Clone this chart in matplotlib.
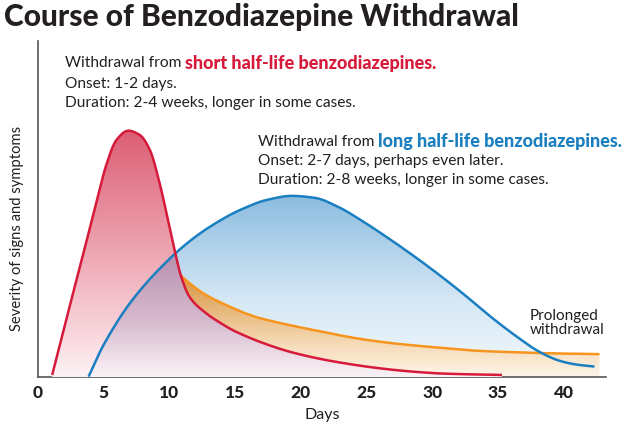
import numpy as np
import matplotlib
matplotlib.use('Agg')
import matplotlib.pyplot as plt
from matplotlib.colors import LinearSegmentedColormap

plt.rcParams['font.family'] = ['Lato', 'DejaVu Sans']

# values (days, severity on a 0-100 scale)
red_days = [1.08, 2.21, 3.47, 4.48, 5.23, 5.98, 6.87, 7.75, 8.51, 9.26, 9.89, 10.39, 10.89,
            11.52, 12.78, 13.79, 14.79, 15.55, 17.06, 19.07, 21.58, 24.10, 26.62, 29.13, 30.87, 35.30]
red_vals = [0.6, 18.0, 37.0, 52.5, 63.5, 70.6, 73.3, 72.0, 67.6, 57.6, 46.7, 37.8, 29.9,
            23.9, 19.0, 16.3, 14.0, 12.6, 10.2, 7.6, 5.3, 3.6, 2.3, 1.4, 1.0, 0.6]

blue_days = [3.85, 4.73, 5.74, 6.74, 8.25, 9.76, 10.51, 12.28, 13.53, 14.79, 15.55, 17.31, 19.32,
             21.08, 22.85, 24.60, 26.62, 28.38, 30.39, 32.40, 34.42, 36.43, 38.19, 39.70, 40.96, 42.34]
blue_vals = [0.1, 7.6, 14.6, 20.6, 28.0, 34.2, 37.0, 42.6, 45.8, 48.6, 50.0, 52.6, 53.9,
             53.3, 50.6, 46.6, 41.4, 36.6, 30.8, 24.6, 18.0, 12.0, 7.4, 4.8, 3.7, 3.1]

orange_days = [10.85, 11.52, 12.78, 14.04, 16.55, 19.07, 21.58, 24.10, 26.62, 29.13, 30.89,
               33.41, 35.92, 38.44, 40.96, 42.72]
orange_vals = [30.2, 27.9, 24.4, 21.9, 17.9, 15.5, 13.5, 11.6, 10.2, 9.2, 8.6,
               7.8, 7.4, 7.1, 6.9, 6.8]

x_ticks = [0, 5, 10, 15, 20, 25, 30, 35, 40]

RED = '#d7193a'
BLUE = '#1a7fc1'
ORANGE = '#f7941d'
TEXT = '#231f20'


def pchip(x, y, n=600):
    # monotone cubic through the read points, only to draw smooth curves
    x = np.asarray(x, float)
    y = np.asarray(y, float)
    h = np.diff(x)
    d = np.diff(y) / h
    m = np.zeros_like(y)
    for k in range(1, len(x) - 1):
        if d[k - 1] * d[k] > 0:
            w1 = 2 * h[k] + h[k - 1]
            w2 = h[k] + 2 * h[k - 1]
            m[k] = (w1 + w2) / (w1 / d[k - 1] + w2 / d[k])
    m[0], m[-1] = d[0], d[-1]
    xs = np.linspace(x[0], x[-1], n)
    i = np.clip(np.searchsorted(x, xs) - 1, 0, len(x) - 2)
    t = (xs - x[i]) / h[i]
    h00 = 2 * t**3 - 3 * t**2 + 1
    h10 = t**3 - 2 * t**2 + t
    h01 = -2 * t**3 + 3 * t**2
    h11 = t**3 - t**2
    ys = h00 * y[i] + h10 * h[i] * m[i] + h01 * y[i + 1] + h11 * h[i] * m[i + 1]
    return xs, ys


def gradient_fill(ax, x, top, bottom, stops, ymax, z):
    poly = ax.fill_between(x, bottom, top, facecolor='none', edgecolor='none')
    cmap = LinearSegmentedColormap.from_list('g', [(v / ymax, c) for v, c in stops])
    grad = np.linspace(0, 1, 256).reshape(-1, 1)
    img = ax.imshow(grad, cmap=cmap, origin='lower', aspect='auto',
                    extent=[min(x), max(x), 0, ymax], zorder=z, interpolation='bilinear')
    img.set_clip_path(poly.get_paths()[0], transform=ax.transData)
    poly.remove()
    return img


rx, ry = pchip(red_days, red_vals)
bx, by = pchip(blue_days, blue_vals)
ox, oy = pchip(orange_days, orange_vals)

fig = plt.figure(figsize=(6.33, 4.30), dpi=100)
ax = fig.add_axes([0.060, 0.1233, 0.897, 0.7814])
ax.set_xlim(0.3, 43.2)
ax.set_ylim(0, 100)

# fills
gradient_fill(ax, bx, by, 0,
              [(0, '#f3f9fd'), (23, '#d5e8f5'), (54, '#8cbce0')], 54, 1)
gradient_fill(ax, ox, oy, 0,
              [(0, '#fdf5ea'), (10, '#f6dab5'), (31, '#d6903a')], 31, 2)
gradient_fill(ax, rx, ry, 0,
              [(0, '#fdf2f5'), (12, '#f9d8de'), (73.5, '#dc5e74')], 73.5, 3)

# overlap of red and blue areas
gx = np.linspace(blue_days[0], red_days[-1], 600)
overlap = np.minimum(np.interp(gx, rx, ry), np.interp(gx, bx, by))
gradient_fill(ax, gx, overlap, 0,
              [(0, '#fbf3f6'), (17, '#d6b9cd'), (38, '#b58ead')], 38, 4)

ax.plot(ox, oy, color=ORANGE, lw=1.8, zorder=5, solid_capstyle='butt')
ax.plot(bx, by, color=BLUE, lw=1.8, zorder=6, solid_capstyle='butt')
ax.plot(rx, ry, color=RED, lw=1.8, zorder=7, solid_capstyle='butt')

for s in ['top', 'right']:
    ax.spines[s].set_visible(False)
for s in ['left', 'bottom']:
    ax.spines[s].set_color('#555555')
    ax.spines[s].set_linewidth(1.2)
ax.set_yticks([])
ax.set_xticks(x_ticks)
ax.set_xticklabels([str(t) for t in x_ticks], fontsize=12.5, fontweight='black', color=TEXT)
ax.tick_params(axis='x', length=0, pad=6)
ax.set_xlabel('Days', fontsize=11.5, color=TEXT, labelpad=5)

fig.text(17 / 633, 1 - 228 / 430, 'Severity of signs and symptoms', rotation=90,
         ha='center', va='center', fontsize=10.6, color=TEXT)

fig.text(4 / 633, 1 - 17 / 430, 'Course of Benzodiazepine Withdrawal', ha='left', va='center',
         fontsize=21.5, fontweight='black', color=TEXT)


def two_part(x, y, plain, bold, color):
    t = fig.text(x / 633, 1 - y / 430, plain, ha='left', va='center', fontsize=11.2, color=TEXT)
    fig.canvas.draw()
    ext = t.get_window_extent()
    fig.text(ext.x1 / 633, 1 - y / 430, bold, ha='left', va='center', fontsize=13,
             fontweight='black', color=color)


two_part(65, 63, 'Withdrawal from ', 'short half-life benzodiazepines.', RED)
fig.text(65 / 633, 1 - 84 / 430, 'Onset: 1-2 days.', ha='left', va='center', fontsize=11.2, color=TEXT)
fig.text(65 / 633, 1 - 103 / 430, 'Duration: 2-4 weeks, longer in some cases.', ha='left',
         va='center', fontsize=11.2, color=TEXT)

two_part(258, 142, 'Withdrawal from ', 'long half-life benzodiazepines.', BLUE)
fig.text(258 / 633, 1 - 161 / 430, 'Onset: 2-7 days, perhaps even later.', ha='left',
         va='center', fontsize=11.2, color=TEXT)
fig.text(258 / 633, 1 - 180 / 430, 'Duration: 2-8 weeks, longer in some cases.', ha='left',
         va='center', fontsize=11.2, color=TEXT)

fig.text(530 / 633, 1 - 323 / 430, 'Prolonged\nwithdrawal', ha='left', va='center',
         fontsize=11, color=TEXT, linespacing=0.95)

fig.savefig('out.png', dpi=100)
